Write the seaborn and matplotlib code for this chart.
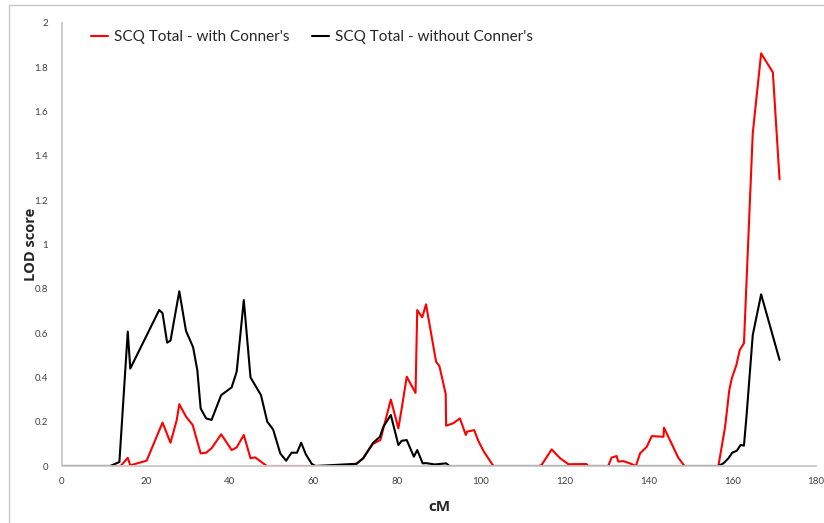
import matplotlib
matplotlib.use("Agg")
import matplotlib.pyplot as plt
import seaborn as sns
import pandas as pd
from matplotlib.lines import Line2D

sns.set_theme(style="white")
plt.rcParams['font.family'] = ['Lato', 'DejaVu Sans']

# Data
with_cM = [0, 14.0, 15.7, 16.3, 20.2, 24.0, 25.9, 27.4, 28.0, 29.6, 31.2, 33.1, 34.4, 35.7,
           38.0, 40.5, 41.7, 43.4, 45.0, 46.1, 48.9, 67.2, 70.3, 71.9, 74.2, 76.0, 78.5,
           80.3, 81.1, 82.3, 84.4, 84.8, 86.0, 86.9, 89.3, 90.1, 91.6, 91.7, 93.4, 95.0,
           96.4, 96.7, 98.4, 99.4, 100.7, 103.0, 113.9, 114.5, 116.9, 118.9, 120.9, 125.2,
           125.6, 130.4, 131.2, 132.4, 132.8, 134.0, 135.6, 137.0, 138.0, 139.6, 140.8,
           143.6, 143.7, 145.3, 147.1, 148.6, 156.7, 158.3, 159.3, 159.9, 161.0, 161.8,
           162.8, 164.9, 166.9, 169.7, 171.3]
with_lod = [0, 0, 0.037, 0.003, 0.024, 0.196, 0.105, 0.208, 0.279, 0.223, 0.185, 0.057, 0.06,
            0.08, 0.143, 0.072, 0.084, 0.14, 0.035, 0.039, 0, 0, 0.01, 0.035, 0.1, 0.117, 0.30,
            0.17, 0.26, 0.403, 0.33, 0.704, 0.671, 0.73, 0.471, 0.451, 0.325, 0.182, 0.193,
            0.215, 0.14, 0.155, 0.162, 0.113, 0.065, 0, 0, 0.005, 0.075, 0.035, 0.008, 0.009,
            0, 0, 0.038, 0.045, 0.02, 0.022, 0.012, 0, 0.057, 0.087, 0.135, 0.132, 0.173,
            0.11, 0.038, 0, 0, 0.177, 0.343, 0.396, 0.456, 0.524, 0.554, 1.502, 1.863,
            1.777, 1.294]

without_cM = [0, 11.5, 13.7, 15.7, 16.3, 23.2, 24.0, 25.1, 25.9, 28.0, 29.6, 31.3, 32.3, 33.1,
              34.4, 35.7, 38.0, 40.5, 41.7, 43.4, 45.0, 47.5, 49.0, 50.4, 52.1, 53.5, 54.8,
              56.1, 57.1, 58.2, 59.6, 60.5, 70.3, 71.9, 74.3, 75.9, 76.7, 78.5, 80.3, 81.1,
              82.3, 84.0, 84.8, 86.1, 86.9, 89.0, 91.7, 92.5, 156.7, 157.9, 159.1, 160.0,
              161.1, 162.0, 162.8, 163.4, 164.9, 166.9, 171.3]
without_lod = [0, 0, 0.018, 0.607, 0.44, 0.704, 0.69, 0.557, 0.566, 0.789, 0.61, 0.536, 0.433,
               0.26, 0.215, 0.208, 0.32, 0.355, 0.426, 0.749, 0.40, 0.32, 0.2, 0.165, 0.057,
               0.024, 0.06, 0.06, 0.105, 0.053, 0.01, 0, 0.01, 0.035, 0.105, 0.132, 0.177, 0.23,
               0.095, 0.114, 0.117, 0.042, 0.072, 0.012, 0.013, 0.007, 0.012, 0, 0, 0.012,
               0.035, 0.06, 0.069, 0.095, 0.092, 0.223, 0.591, 0.775, 0.479]

series_names = ["SCQ Total - with Conner's", "SCQ Total - without Conner's"]
x_ticks = list(range(0, 181, 20))
y_ticks = [0, 0.2, 0.4, 0.6, 0.8, 1, 1.2, 1.4, 1.6, 1.8, 2]

df = pd.concat([
    pd.DataFrame({"cM": with_cM, "LOD": with_lod, "series": series_names[0]}),
    pd.DataFrame({"cM": without_cM, "LOD": without_lod, "series": series_names[1]}),
])

fig = plt.figure(figsize=(8.24, 5.23), dpi=100)
ax = fig.add_axes([62 / 824, 1 - 466 / 523, (816 - 62) / 824, (466 - 23) / 523])

sns.lineplot(data=df, x="cM", y="LOD", hue="series", sort=False, estimator=None,
             palette={series_names[0]: "#ff0000", series_names[1]: "#000000"},
             linewidth=1.5, ax=ax, legend=False)

ax.set_xlim(0, 180)
ax.set_ylim(0, 2)
ax.set_xticks(x_ticks)
ax.set_yticks(y_ticks)
ax.set_xticklabels([str(v) for v in x_ticks])
ax.set_yticklabels(["%g" % v for v in y_ticks])
ax.tick_params(axis="both", length=0, labelsize=7, colors="#404040", pad=8)
ax.tick_params(axis="y", pad=10)

for side in ["top", "right"]:
    ax.spines[side].set_visible(False)
for side in ["left", "bottom"]:
    ax.spines[side].set_color("#c8c8c8")
    ax.spines[side].set_linewidth(1.3)
ax.set_zorder(1)

label_font = ['Open Sans', 'DejaVu Sans']
ax.set_xlabel("cM", fontsize=11, fontweight="bold", labelpad=10, family=label_font)
ax.set_ylabel("LOD score", fontsize=10.5, fontweight="bold", family=label_font)
ax.yaxis.set_label_coords(-0.032, 0.5)

handles = [Line2D([0], [0], color="#ff0000", lw=1.5), Line2D([0], [0], color="#000000", lw=1.5)]
ax.legend(handles, series_names, loc="upper left", bbox_to_anchor=(0.02, 1.015), ncol=2,
          frameon=False, fontsize=11, handlelength=1.1, handletextpad=0.4, columnspacing=1.5)

# figure border
fig.add_artist(Line2D([9 / 824, 1], [1 - 5 / 523, 1 - 5 / 523], color="#c8c8c8", lw=1))
fig.add_artist(Line2D([9 / 824, 9 / 824], [0, 1 - 5 / 523], color="#c8c8c8", lw=1))

fig.savefig("out.png", dpi=100)
